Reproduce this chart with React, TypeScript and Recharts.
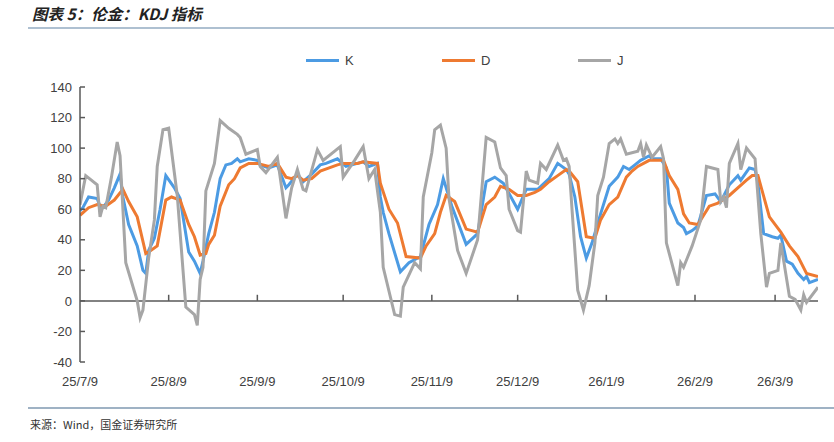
import React from 'react';
import { LineChart, Line, XAxis, YAxis, ReferenceLine } from 'recharts';

// days counted from 2025-07-09 (calendar days, the x axis is a date axis)
const kDays = [0, 1, 3, 6, 7, 8, 10, 12, 14, 15, 17, 20, 22, 23, 24, 26, 28, 30, 33, 35, 38, 40, 42, 43, 45, 47, 49, 51, 53, 55, 56, 59, 62, 63, 66, 69, 72, 73, 76, 78, 81, 84, 86, 90, 93, 97, 99, 101, 104, 105, 106, 108, 112, 115, 119, 122, 125, 127, 130, 135, 139, 142, 145, 148, 153, 156, 160, 164, 167, 170, 171, 173, 175, 177, 179, 182, 185, 188, 190, 192, 194, 196, 199, 200, 203, 205, 206, 209, 211, 212, 214, 216, 219, 222, 224, 227, 230, 231, 234, 236, 237, 239, 242, 244, 245, 247, 249, 251, 253, 254, 255, 258];
const kValues = [59, 61, 68, 67, 62, 61, 66, 74, 83, 68, 50, 36, 20, 18, 33, 41, 60, 82, 74, 67, 32, 26, 18, 26, 44, 58, 80, 89, 90, 93, 91, 93, 92, 89, 87, 89, 74, 76, 83, 78, 83, 89, 90, 93, 88, 90, 91, 88, 90, 68, 58, 44, 19, 25, 29, 50, 63, 80, 62, 37, 44, 78, 81, 77, 60, 73, 73, 80, 90, 86, 83, 68, 42, 28, 38, 57, 75, 81, 88, 86, 89, 92, 95, 93, 93, 87, 64, 51, 48, 44, 46, 49, 69, 70, 65, 76, 82, 79, 87, 86, 77, 44, 42, 41, 43, 26, 24, 18, 14, 16, 12, 14];

const dDays = [0, 3, 6, 9, 12, 15, 17, 20, 23, 24, 27, 30, 32, 35, 38, 40, 42, 44, 45, 47, 49, 52, 54, 56, 59, 62, 64, 66, 69, 72, 74, 76, 78, 81, 84, 90, 92, 97, 99, 104, 105, 108, 111, 114, 119, 121, 124, 126, 128, 131, 135, 139, 142, 145, 147, 150, 153, 156, 159, 161, 164, 167, 170, 171, 174, 177, 180, 182, 185, 188, 191, 193, 195, 199, 204, 206, 209, 211, 213, 216, 217, 220, 223, 227, 233, 235, 237, 241, 245, 248, 251, 254, 258];
const dValues = [56, 61, 63, 62, 66, 73, 65, 55, 31, 32, 36, 66, 68, 66, 50, 42, 30, 31, 37, 43, 62, 76, 80, 87, 90, 90, 89, 88, 90, 81, 80, 82, 79, 80, 85, 89, 90, 90, 91, 90, 77, 60, 51, 29, 28, 36, 44, 58, 69, 65, 47, 45, 63, 68, 75, 73, 69, 69, 71, 73, 78, 82, 86, 85, 78, 42, 41, 53, 63, 68, 81, 85, 88, 92, 92, 82, 73, 57, 51, 50, 53, 62, 64, 69, 79, 82, 82, 55, 45, 36, 29, 18, 16];

const jDays = [0, 2, 6, 7, 8, 9, 11, 13, 14, 16, 20, 21, 22, 24, 26, 27, 29, 31, 34, 37, 40, 41, 42, 43, 44, 47, 49, 52, 55, 56, 58, 62, 63, 65, 69, 72, 74, 76, 78, 79, 83, 85, 91, 92, 96, 99, 101, 103, 105, 106, 110, 112, 113, 117, 119, 120, 123, 124, 126, 128, 129, 132, 135, 139, 142, 145, 147, 149, 150, 153, 154, 156, 157, 160, 161, 163, 167, 169, 170, 171, 172, 174, 176, 178, 180, 181, 183, 185, 187, 188, 189, 191, 195, 196, 197, 198, 200, 203, 204, 205, 209, 210, 211, 214, 217, 219, 223, 224, 225, 226, 227, 230, 231, 233, 236, 238, 240, 241, 244, 245, 248, 250, 252, 253, 254, 258];
const jValues = [63, 82, 76, 55, 62, 61, 81, 104, 95, 25, 0, -11, -6, 28, 53, 88, 112, 113, 69, -4, -9, -16, 14, 22, 72, 90, 118, 113, 109, 107, 96, 99, 88, 84, 94, 54, 74, 86, 73, 72, 99, 92, 101, 81, 92, 101, 80, 86, 58, 22, -9, -10, 9, 25, 21, 68, 97, 112, 115, 100, 67, 33, 18, 40, 107, 104, 87, 82, 60, 46, 45, 85, 79, 77, 90, 86, 102, 92, 93, 88, 60, 7, -6, 10, 38, 69, 81, 103, 106, 103, 106, 96, 98, 103, 94, 102, 94, 101, 93, 38, 10, 25, 22, 36, 53, 88, 86, 65, 68, 61, 90, 103, 86, 100, 93, 44, 9, 18, 20, 38, 3, 1, -6, 4, -1, 9];

const monthTicks = [0, 31, 62, 92, 123, 153, 184, 215, 243];
const monthLabels = ['25/7/9', '25/8/9', '25/9/9', '25/10/9', '25/11/9', '25/12/9', '26/1/9', '26/2/9', '26/3/9'];
const yTicks = [-40, -20, 0, 20, 40, 60, 80, 100, 120, 140];

const series = [
  { name: 'K', color: '#4C9BE3', days: kDays, values: kValues },
  { name: 'D', color: '#EE7A31', days: dDays, values: dValues },
  { name: 'J', color: '#A6A6A6', days: jDays, values: jValues },
];

const AXIS = '#595959';
const FONT = '"Liberation Sans", Arial, sans-serif';
const CJK = '"Noto Sans CJK SC", sans-serif';

export default function App() {
  return (
    <div style={{ position: 'absolute', left: 0, top: 0, width: 834, height: 442, background: '#fff', overflow: 'hidden' }}>
      <div style={{ position: 'absolute', left: 32, top: 2, fontFamily: CJK, fontSize: 15.5, fontWeight: 700, fontStyle: 'italic', color: '#222' }}>
        图表 5：伦金：KDJ 指标
      </div>
      <div style={{ position: 'absolute', left: 28, right: 0, top: 27, height: 2, background: '#AEC0D1' }} />

      <div style={{ position: 'absolute', top: 50, left: 0, width: 834, height: 20 }}>
        {series.map((s, i) => (
          <div key={s.name} style={{ position: 'absolute', left: 306 + i * 136, top: 0, height: 20, display: 'flex', alignItems: 'center' }}>
            <div style={{ width: 33, height: 3, background: s.color }} />
            <span style={{ marginLeft: 6, fontFamily: FONT, fontSize: 13, color: '#404040' }}>{s.name}</span>
          </div>
        ))}
      </div>

      <LineChart width={834} height={442} margin={{ top: 87, right: 16, bottom: 30, left: 0 }}>
        <XAxis
          type="number"
          dataKey="day"
          domain={[0, 258]}
          ticks={monthTicks}
          tickFormatter={(v: number) => monthLabels[monthTicks.indexOf(v)]}
          axisLine={false}
          tickLine={false}
          tickSize={0}
          tickMargin={15}
          height={50}
          tick={{ fill: '#404040', fontSize: 13, fontFamily: FONT }}
          allowDataOverflow
        />
        <YAxis
          type="number"
          domain={[-40, 140]}
          ticks={yTicks}
          width={80}
          axisLine={{ stroke: AXIS, strokeWidth: 1.5 }}
          tickLine={{ stroke: AXIS, strokeWidth: 1.5 }}
          tickSize={-5}
          tickMargin={13}
          tick={{ fill: '#404040', fontSize: 13, fontFamily: FONT }}
          interval={0}
        />
        <ReferenceLine y={0} stroke={AXIS} strokeWidth={1.5} />
        {monthTicks.slice(1).map((t) => (
          <ReferenceLine key={t} segment={[{ x: t, y: 0 }, { x: t, y: 4 }]} stroke={AXIS} strokeWidth={1.5} />
        ))}
        {series.map((s) => (
          <Line
            key={s.name}
            data={s.days.map((d, i) => ({ day: d, value: s.values[i] }))}
            dataKey="value"
            name={s.name}
            stroke={s.color}
            strokeWidth={3}
            dot={false}
            type="linear"
            isAnimationActive={false}
          />
        ))}
      </LineChart>

      <div style={{ position: 'absolute', left: 28, right: 0, top: 407, height: 1.5, background: '#9FB2C4' }} />
      <div style={{ position: 'absolute', left: 30, top: 416, fontFamily: CJK, fontSize: 11, color: '#333' }}>
        来源：Wind，国金证券研究所
      </div>
    </div>
  );
}
